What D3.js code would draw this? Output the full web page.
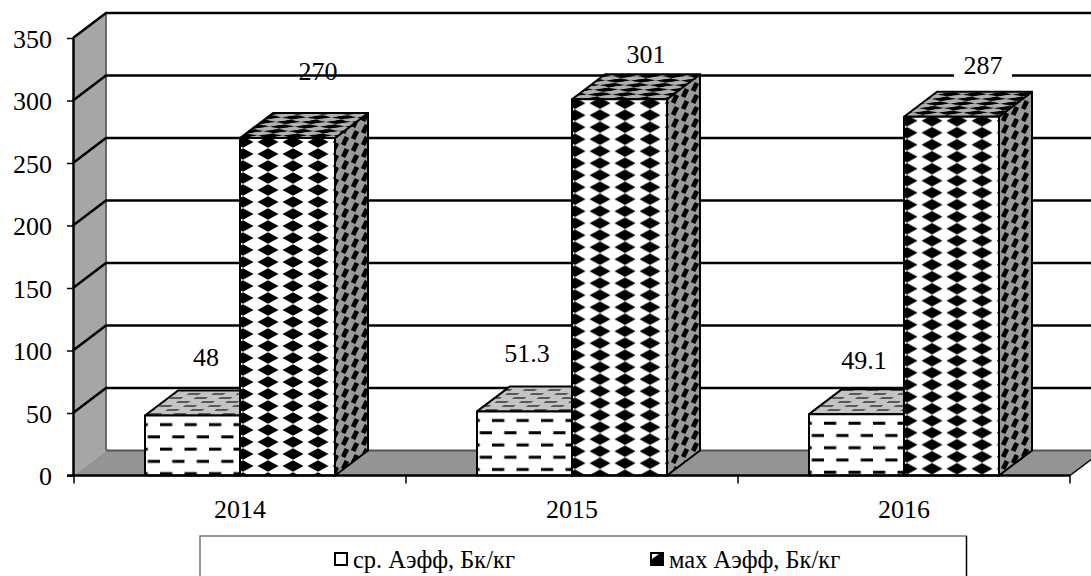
<!DOCTYPE html>
<html lang="en">
<head>
<meta charset="UTF-8">
<title>Аэфф</title>
<style>
    body { margin: 0; background: #fff; overflow: hidden; }
    svg { display: block; }
    text { font-family: "Liberation Serif", serif; fill: #000; }
    .lbl { font-size: 26px; }
</style>
</head>
<body>
<div id="chart"></div>
<script src="https://cdn.jsdelivr.net/npm/d3@7"></script>
<script>
const years = ['2014', '2015', '2016'];
const seriesNames = ['ср. Аэфф, Бк/кг', 'мах Аэфф, Бк/кг'];
const avgValues = [48, 51.3, 49.1];
const maxValues = [270, 301, 287];
const yTicks = [0, 50, 100, 150, 200, 250, 300, 350];

const width = 1091, height = 576;
// depth of the fake 3d box
const dx = 33, dy = -25;

const svg = d3.select('#chart').append('svg')
    .attr('width', width)
    .attr('height', height);

const y = d3.scaleLinear().domain([0, 350]).range([475.5, 38]);
const x = d3.scaleBand().domain(years).range([74, 1070]);
const barW = 95;
const seriesX = d3.scaleBand().domain([0, 1]).range([-barW, barW]);

const defs = svg.append('defs');

function addPattern(id, w, h, bg, transform, draw) {
    const p = defs.append('pattern')
        .attr('id', id)
        .attr('patternUnits', 'userSpaceOnUse')
        .attr('width', w)
        .attr('height', h);
    if (transform) p.attr('patternTransform', transform);
    p.append('rect').attr('width', w).attr('height', h).attr('fill', bg);
    draw(p);
}

function dashes(p, w, rowH, thick, color) {
    [[0, rowH * 0.5], [w / 2, rowH * 1.5]].forEach(([ox, oy]) => {
        p.append('rect')
            .attr('x', ox).attr('y', oy - thick / 2)
            .attr('width', w * 0.5).attr('height', thick)
            .attr('fill', color);
    });
}

function diamonds(p, w, h, rx, ry) {
    [0, w].forEach(cx => {
        p.append('path')
            .attr('d', `M${cx - rx},${h / 2}L${cx},${h / 2 - ry}L${cx + rx},${h / 2}L${cx},${h / 2 + ry}Z`)
            .attr('fill', '#000');
    });
}

// slanted black blobs of the side faces, the cell wraps so they are drawn with copies
function slantBlobs(p, w, h) {
    [[w / 4, h * 0.75], [w * 0.75, h * 0.25]].forEach(([cx, cy]) => {
        [-h, 0, h].forEach(oy => {
            [-w, 0, w].forEach(ox => {
                p.append('rect')
                    .attr('x', -2.4).attr('y', -4.5)
                    .attr('width', 4.8).attr('height', 9)
                    .attr('transform', `translate(${cx + ox},${cy + oy}) rotate(25)`)
                    .attr('fill', '#000');
            });
        });
    });
}

addPattern('avgTop', 24.5, 8, '#c4c4c4', 'skewX(-53)', p => dashes(p, 24.5, 4, 1.5, '#444'));
addPattern('maxTop', 25, 4.6, '#b0b0b0', 'skewX(-53)', p => diamonds(p, 25, 4.6, 12.5, 2.1));
addPattern('side', 20, 12, '#9a9a9a', null, p => slantBlobs(p, 20, 12));

// value labels sit by hand in the original, offsets from the bar top
const avgLabelDx = [-34, -45, -40];
const avgLabelDy = [-50, -49, -45];
const maxLabelDx = [78, 74, 79];
const maxLabelDy = [-58, -36, -43];

// back wall, side wall, floor
const q = (px, py) => `${px},${py}`;
const backRight = 1103;
svg.append('polygon')
    .attr('points', [q(73, y(350)), q(73 + dx, y(350) + dy), q(73 + dx, y(0) + dy), q(73, y(0))].join(' '))
    .attr('fill', '#a6a6a6');
svg.append('polygon')
    .attr('points', [q(73, y(0)), q(73 + dx, y(0) + dy), q(backRight, y(0) + dy), q(1070, y(0))].join(' '))
    .attr('fill', '#949494');
svg.append('line')
    .attr('x1', 73 + dx).attr('x2', 73 + dx)
    .attr('y1', y(350) + dy).attr('y2', y(0) + dy)
    .attr('stroke', '#666').attr('stroke-width', 2);
svg.append('line')
    .attr('x1', 73 + dx).attr('x2', backRight)
    .attr('y1', y(0) + dy).attr('y2', y(0) + dy)
    .attr('stroke', '#555').attr('stroke-width', 2);
svg.append('line')
    .attr('x1', 1070).attr('x2', 1070 + dx)
    .attr('y1', y(0)).attr('y2', y(0) + dy)
    .attr('stroke', '#000').attr('stroke-width', 1.5);

// gridlines on the wall, each one bends round the corner
svg.append('g').selectAll('path')
    .data(yTicks.slice(1))
    .join('path')
    .attr('d', d => `M73,${y(d)}L${73 + dx},${y(d) + dy}L${backRight},${y(d) + dy}`)
    .attr('fill', 'none')
    .attr('stroke', '#000')
    .attr('stroke-width', 2.5);

function box(cx, value, front, top, side) {
    const x0 = cx, x1 = cx + barW, yt = y(value), yb = y(0);
    const g = svg.append('g').attr('stroke', '#000').attr('stroke-width', 2).attr('stroke-linejoin', 'round');
    g.append('polygon')
        .attr('points', [q(x1, yb), q(x1 + dx, yb + dy), q(x1 + dx, yt + dy), q(x1, yt)].join(' '))
        .attr('fill', `url(#${side})`);
    g.append('polygon')
        .attr('points', [q(x0, yt), q(x0 + dx, yt + dy), q(x1 + dx, yt + dy), q(x1, yt)].join(' '))
        .attr('fill', `url(#${top})`);
    g.append('rect')
        .attr('x', x0).attr('y', yt)
        .attr('width', barW).attr('height', yb - yt)
        .attr('fill', `url(#${front})`);
}

years.forEach((yr, i) => {
    const c = x(yr) + x.bandwidth() / 2;
    const avgLeft = c + seriesX(0), maxLeft = c + seriesX(1);
    // fills start at the corner of each bar, not the page
    addPattern(`avgFront${i}`, 24.5, 24.5, '#fff', `translate(${avgLeft + 15},${y(avgValues[i]) + 3})`,
        p => dashes(p, 24.5, 12.25, 3, '#000'));
    addPattern(`maxFront${i}`, 25, 12, '#fff', `translate(${maxLeft + 3},${y(maxValues[i]) - 2})`,
        p => diamonds(p, 25, 12, 10.5, 5.8));
    box(avgLeft, avgValues[i], `avgFront${i}`, 'avgTop', 'side');
    box(maxLeft, maxValues[i], `maxFront${i}`, 'maxTop', 'side');
});

// axes
const yAxis = svg.append('g')
    .attr('transform', 'translate(73,0)')
    .call(d3.axisLeft(y).tickValues(yTicks).tickSize(6).tickPadding(15).tickSizeOuter(0));
yAxis.selectAll('text').style('font-size', '26px').style('font-family', '"Liberation Serif", serif').attr('dy', '0.36em');
yAxis.selectAll('line').attr('stroke', '#000').attr('stroke-width', 1.5);
yAxis.select('.domain').attr('stroke', '#000').attr('stroke-width', 2.5);

const xAxis = svg.append('g').attr('transform', `translate(0,${y(0)})`);
xAxis.append('line')
    .attr('x1', 67).attr('x2', 1070)
    .attr('stroke', '#000').attr('stroke-width', 2.5);
xAxis.selectAll('line.tick')
    .data([...years.map(d => x(d)), 1070])
    .join('line')
    .attr('class', 'tick')
    .attr('x1', d => d).attr('x2', d => d)
    .attr('y1', 0).attr('y2', 8)
    .attr('stroke', '#000').attr('stroke-width', 1.5);
xAxis.selectAll('text')
    .data(years)
    .join('text')
    .attr('class', 'lbl')
    .attr('x', d => x(d) + x.bandwidth() / 2)
    .attr('y', 42)
    .attr('text-anchor', 'middle')
    .text(d => d);

// value labels
function valueLabel(cx, yPos, text, gap) {
    if (gap) {
        svg.append('rect')
            .attr('x', cx - 29).attr('y', yPos - 22)
            .attr('width', 58).attr('height', 32)
            .attr('fill', '#fff');
    }
    svg.append('text')
        .attr('class', 'lbl')
        .attr('x', cx).attr('y', yPos)
        .attr('text-anchor', 'middle')
        .text(text);
}
years.forEach((yr, i) => {
    const c = x(yr) + x.bandwidth() / 2;
    valueLabel(c + avgLabelDx[i], y(avgValues[i]) + avgLabelDy[i], avgValues[i], false);
    valueLabel(c + maxLabelDx[i], y(maxValues[i]) + maxLabelDy[i], maxValues[i], i === 2);
});

// legend, the original box is cut by the bottom of the picture
const legend = svg.append('g');
legend.append('rect')
    .attr('x', 200).attr('y', 536)
    .attr('width', 767).attr('height', 60)
    .attr('fill', '#fff');
legend.append('path')
    .attr('d', 'M200,596V536H967')
    .attr('fill', 'none').attr('stroke', '#777').attr('stroke-width', 1.5);
legend.append('line')
    .attr('x1', 966.5).attr('x2', 966.5).attr('y1', 536).attr('y2', 596)
    .attr('stroke', '#000').attr('stroke-width', 1.5);
const legendX = [335, 651];
seriesNames.forEach((name, i) => {
    legend.append('rect')
        .attr('x', legendX[i]).attr('y', 553)
        .attr('width', 12).attr('height', 12)
        .attr('fill', i === 0 ? '#fff' : '#000')
        .attr('stroke', '#000').attr('stroke-width', 2);
    if (i === 1) {
        legend.append('path')
            .attr('d', `M${legendX[i] + 1},554h7l-7,5Z`)
            .attr('fill', '#fff');
    }
    legend.append('text')
        .attr('x', legendX[i] + 18).attr('y', 568)
        .style('font-size', '24.5px')
        .text(name);
});
</script>
</body>
</html>
